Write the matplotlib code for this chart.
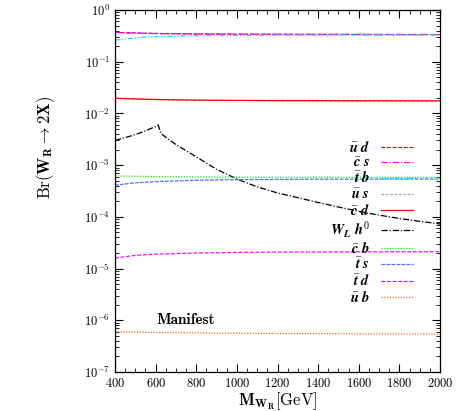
import numpy as np
import matplotlib
matplotlib.use("Agg")
import matplotlib.pyplot as plt
from matplotlib.ticker import LogLocator, MultipleLocator, NullFormatter

plt.rcParams['font.family'] = 'serif'
plt.rcParams['font.serif'] = ['cmr10']
plt.rcParams['mathtext.fontset'] = 'cm'
plt.rcParams['axes.formatter.use_mathtext'] = True

# data
M_flat = [400, 500, 600, 800, 1000, 1200, 1500, 2000]
br_ud = [0.370, 0.360, 0.352, 0.345, 0.341, 0.339, 0.337, 0.335]
br_cs = [0.368, 0.358, 0.350, 0.344, 0.340, 0.338, 0.336, 0.334]
br_tb = [0.262, 0.290, 0.305, 0.318, 0.323, 0.326, 0.328, 0.330]
br_us = [0.0194, 0.0189, 0.0184, 0.0179, 0.0177, 0.0175, 0.0174, 0.0173]
br_cd = [0.0197, 0.0191, 0.0186, 0.0181, 0.0179, 0.0177, 0.0176, 0.0175]
br_cb = [6.2e-4, 6.1e-4, 6.0e-4, 5.9e-4, 5.85e-4, 5.82e-4, 5.8e-4, 5.8e-4]
br_ts = [4.1e-4, 4.55e-4, 4.8e-4, 5.1e-4, 5.25e-4, 5.3e-4, 5.35e-4, 5.4e-4]
br_td = [1.6e-5, 1.8e-5, 1.9e-5, 2.0e-5, 2.05e-5, 2.08e-5, 2.1e-5, 2.12e-5]
br_ub = [6.0e-7, 5.9e-7, 5.8e-7, 5.7e-7, 5.6e-7, 5.55e-7, 5.5e-7, 5.4e-7]

M_wh = [400, 450, 500, 550, 600, 613, 625, 700, 800, 900, 1000, 1100, 1200,
        1300, 1400, 1500, 1600, 1700, 1800, 1900, 2000]
br_wh = [3.0e-3, 3.4e-3, 3.9e-3, 4.6e-3, 5.6e-3, 6.0e-3, 4.1e-3, 2.5e-3,
         1.45e-3, 8.3e-4, 5.4e-4, 3.8e-4, 2.9e-4, 2.35e-4, 1.9e-4, 1.55e-4,
         1.28e-4, 1.08e-4, 9.3e-5, 8.2e-5, 7.3e-5]

B = r'\boldsymbol'
labels = [rf'$\bar{{{B}{{u}}}}\;{B}{{d}}$', rf'$\bar{{{B}{{c}}}}\;{B}{{s}}$',
          rf'$\bar{{{B}{{t}}}}\;{B}{{b}}$', rf'$\bar{{{B}{{u}}}}\;{B}{{s}}$',
          rf'$\bar{{{B}{{c}}}}\;{B}{{d}}$',
          rf'${B}{{W}}_{{{B}{{L}}}}\;{B}{{h}}^{{\mathbf{{0}}}}$',
          rf'$\bar{{{B}{{c}}}}\;{B}{{b}}$', rf'$\bar{{{B}{{t}}}}\;{B}{{s}}$',
          rf'$\bar{{{B}{{t}}}}\;{B}{{d}}$', rf'$\bar{{{B}{{u}}}}\;{B}{{b}}$']
annot_text = 'Manifest'
annot_x = 750
annot_y = 1.0e-6

fig = plt.figure(figsize=(4.57, 4.11), dpi=100)
ax = fig.add_axes([115/457, 1-372/411, 325/457, 362/411])

lw = 0.9
ax.plot(M_flat, br_ud, color='#ff0000', ls=(0, (3, 1.5)), lw=lw, label=labels[0])
ax.plot(M_flat, br_cs, color='#ff00ff', ls=(0, (5, 1.5, 1, 1.5)), lw=lw, label=labels[1])
ax.plot(M_flat, br_tb, color='#00e5ff', ls=(0, (4, 1.5, 1, 1.5, 1, 1.5)), lw=lw, label=labels[2])
ax.plot(M_flat, br_us, color='#a0a0a0', ls=(0, (2, 1.5)), lw=lw, label=labels[3])
ax.plot(M_flat, br_cd, color='#ff0000', ls='-', lw=lw, label=labels[4])
ax.plot(M_wh, br_wh, color='#000000', ls=(0, (5, 1.5, 1, 1.5)), lw=lw, label=labels[5])
ax.plot(M_flat, br_cb, color='#00ee00', ls=(0, (1, 1.2)), lw=lw, label=labels[6])
ax.plot(M_flat, br_ts, color='#5070ff', ls=(0, (3, 1)), lw=lw, label=labels[7])
ax.plot(M_flat, br_td, color='#ff00ff', ls=(0, (3, 1.5)), lw=lw, label=labels[8])
ax.plot(M_flat, br_ub, color='#ff6020', ls=(0, (1, 1.2)), lw=lw, label=labels[9])

ax.set_yscale('log')
ax.set_xlim(400, 2000)
ax.set_ylim(1e-7, 1)
ax.xaxis.set_major_locator(MultipleLocator(200))
ax.xaxis.set_minor_locator(MultipleLocator(50))
ax.yaxis.set_major_locator(LogLocator(base=10, numticks=20))
ax.yaxis.set_minor_locator(LogLocator(base=10, subs=np.arange(2, 10), numticks=20))
ax.yaxis.set_minor_formatter(NullFormatter())
ax.tick_params(which='both', direction='in', top=True, right=True, labelsize=9)
ax.tick_params(which='major', length=6, width=0.8)
ax.tick_params(which='minor', length=3, width=0.6)
for s in ax.spines.values():
    s.set_linewidth(0.9)

ax.set_xlabel(r'$\mathbf{M_{W_R}}\mathrm{[GeV]}$', fontsize=12, labelpad=0)
ax.set_ylabel(r'$\mathrm{Br}(\mathbf{W_R} \rightarrow \mathbf{2X})$', fontsize=12)
ax.yaxis.set_label_coords(-0.178, 0.62)

ax.text(annot_x, annot_y, annot_text, fontname='cmb10', fontsize=11,
        ha='center', va='center')

leg = ax.legend(loc='upper right', bbox_to_anchor=(413/457, 1-140/411),
                bbox_transform=fig.transFigure, frameon=False, markerfirst=False,
                fontsize=10.5, handlelength=2.2, handletextpad=0.75,
                labelspacing=0.08, borderpad=0, borderaxespad=0)

fig.savefig('out.png', dpi=100)
